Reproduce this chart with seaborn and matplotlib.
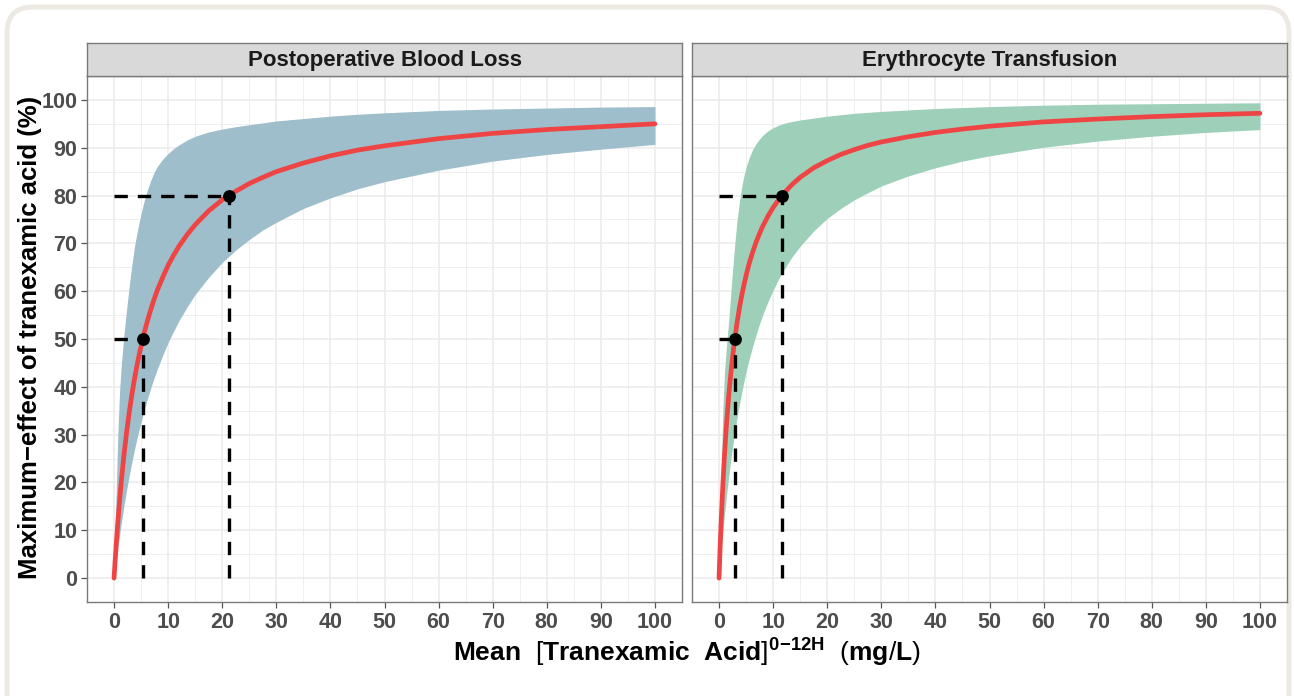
import matplotlib
matplotlib.use("Agg")
import matplotlib.pyplot as plt
from matplotlib.ticker import MultipleLocator
from matplotlib.patches import FancyBboxPatch
import pandas as pd
import seaborn as sns

# ---------------- data ----------------
panels = ["Postoperative Blood Loss", "Erythrocyte Transfusion"]
conc = [0, 0.1, 0.2, 0.4, 0.7, 1, 1.3, 1.8, 2.3, 2.8, 3.3, 3.8, 4.3, 4.7, 5.2, 5.6,
        6.2, 6.8, 7.4, 8, 9, 10, 11, 12, 13.5, 15, 17.5, 20, 22.5, 25, 27.5, 30,
        35, 40, 45, 50, 60, 70, 80, 90, 100]

bl_mid = [0, 1.85, 3.6, 7.0, 11.7, 15.9, 19.7, 25.4, 30.3, 34.6, 38.4, 41.8, 44.8, 47.0,
          49.5, 51.4, 53.9, 56.2, 58.3, 60.2, 62.9, 65.4, 67.5, 69.4, 71.8, 73.9, 76.8,
          79.1, 80.9, 82.5, 83.8, 85.0, 86.8, 88.3, 89.5, 90.4, 91.9, 93.0, 93.8, 94.4, 95.0]
bl_lo = [0, 0.96, 1.9, 3.7, 6.4, 8.8, 11.2, 14.9, 18.3, 21.4, 24.3, 27.0, 29.5, 31.3,
         33.5, 35.2, 37.6, 39.8, 41.8, 43.7, 46.6, 49.3, 51.6, 53.8, 56.7, 59.3, 62.9,
         66.0, 68.6, 70.8, 72.8, 74.4, 77.3, 79.5, 81.4, 82.9, 85.3, 87.2, 88.6, 89.7, 90.7]
bl_hi = [0, 5, 10, 18, 30, 38.5, 44, 50.5, 56, 61, 65.5, 69.5, 72.5, 74.7,
         77.2, 79, 81.3, 83.2, 84.8, 86.1, 87.6, 88.8, 89.8, 90.6, 91.6, 92.4, 93.3,
         93.9, 94.4, 94.8, 95.2, 95.6, 96.1, 96.6, 97.0, 97.3, 97.8, 98.1, 98.3, 98.5, 98.6]

et_mid = [0, 3.3, 6.5, 12.1, 19.4, 25.6, 31.0, 38.3, 44.2, 49.1, 53.2, 56.7, 59.7, 61.8,
          64.2, 65.9, 68.1, 70.1, 71.8, 73.4, 75.6, 77.5, 79.1, 80.5, 82.3, 83.8, 85.8,
          87.3, 88.6, 89.6, 90.5, 91.2, 92.3, 93.2, 93.9, 94.5, 95.4, 96.0, 96.5, 96.9, 97.2]
et_lo = [0, 1.5, 2.9, 5.7, 9.6, 13.2, 16.5, 21.4, 25.8, 29.8, 33.3, 36.5, 39.4, 41.6,
         44.1, 45.9, 48.4, 50.7, 52.9, 54.8, 57.7, 60.2, 62.5, 64.5, 67.2, 69.4, 72.6,
         75.2, 77.3, 79.1, 80.6, 82.0, 84.1, 85.8, 87.2, 88.3, 90.1, 91.4, 92.4, 93.2, 93.8]
et_hi = [0, 6, 11, 22, 35, 43, 47.5, 54, 61.5, 68.5, 74.5, 79, 82.5, 84.6,
         86.7, 88, 89.6, 90.8, 91.7, 92.5, 93.5, 94.2, 94.7, 95.1, 95.5, 95.8, 96.2,
         96.6, 96.9, 97.2, 97.4, 97.6, 97.9, 98.2, 98.4, 98.6, 98.9, 99.1, 99.2, 99.3, 99.4]

ec50 = [5.3, 2.9]
ec80 = [21.2, 11.6]
effect_levels = [50, 80]

x_ticks = list(range(0, 101, 10))
y_ticks = list(range(0, 101, 10))

band_colors = ["#9EBECB", "#9ED0B9"]
line_color = "#EF4444"

# ---------------- style ----------------
sns.set_theme(style="whitegrid")
plt.rcParams["font.family"] = ["Liberation Sans", "DejaVu Sans"]
plt.rcParams["mathtext.fontset"] = "custom"
plt.rcParams["mathtext.rm"] = "Liberation Sans"
plt.rcParams["mathtext.bf"] = "Liberation Sans:bold"
plt.rcParams["mathtext.it"] = "Liberation Sans:italic"

W, H = 1294, 696
fig = plt.figure(figsize=(W / 100, H / 100), dpi=100)
fig.patch.set_facecolor("white")

# outer card frame (open at the bottom)
card = FancyBboxPatch((7 / W, -60 / H), 1282 / W, (H - 7 + 60) / H,
                      boxstyle="round,pad=0,rounding_size=0.02",
                      transform=fig.transFigure, facecolor="white",
                      edgecolor="#ECE9E3", linewidth=3.5, zorder=-10,
                      mutation_aspect=W / H)
fig.patches.append(card)


def fx(px):
    return px / W


def fy(py):
    return 1 - py / H


panel_px = [(87, 682), (692, 1287)]
top_px, bot_px, strip_top_px = 76, 602, 43

mids = [bl_mid, et_mid]
los = [bl_lo, et_lo]
his = [bl_hi, et_hi]

for i, name in enumerate(panels):
    x0, x1 = panel_px[i]
    ax = fig.add_axes([fx(x0), fy(bot_px), fx(x1) - fx(x0), fy(top_px) - fy(bot_px)])
    ax.set_facecolor("white")

    df = pd.DataFrame({"conc": conc, "mid": mids[i], "lo": los[i], "hi": his[i]})
    ax.fill_between(df["conc"], df["lo"], df["hi"], color=band_colors[i], lw=0, zorder=2)
    sns.lineplot(data=df, x="conc", y="mid", ax=ax, color=line_color, lw=3.4,
                 zorder=4, sort=False)

    # reference dashed lines
    for ec, lev in zip([ec50[i], ec80[i]], effect_levels):
        ax.plot([0, ec], [lev, lev], color="black", lw=2.4, ls=(0, (4, 3)), zorder=5,
                dash_capstyle="butt")
        ax.plot([ec, ec], [0, lev], color="black", lw=2.4, ls=(0, (4, 3)), zorder=5,
                dash_capstyle="butt")
    pts = pd.DataFrame({"x": [ec50[i], ec80[i]], "y": effect_levels})
    sns.scatterplot(data=pts, x="x", y="y", ax=ax, color="black", s=85,
                    edgecolor="black", linewidth=0, zorder=6)

    ax.set_xlim(-5, 105)
    ax.set_ylim(-5, 105)
    ax.set_xticks(x_ticks)
    ax.set_xticklabels([str(t) for t in x_ticks])
    ax.set_yticks(y_ticks)
    ax.xaxis.set_minor_locator(MultipleLocator(5))
    ax.yaxis.set_minor_locator(MultipleLocator(5))
    ax.grid(True, which="major", color="#EBEBEB", lw=1.1, zorder=0)
    ax.grid(True, which="minor", color="#EBEBEB", lw=0.55, zorder=0)
    ax.set_axisbelow(True)
    ax.set_xlabel("")
    ax.set_ylabel("")
    for sp in ax.spines.values():
        sp.set_visible(True)
        sp.set_color("#7A7A7A")
        sp.set_linewidth(1.0)
    ax.tick_params(which="minor", length=0)
    ax.tick_params(axis="x", which="major", length=4, width=0.9, color="#555555",
                   labelsize=15.5, labelcolor="#4D4D4D", pad=3, bottom=True)
    for lab in ax.get_xticklabels():
        lab.set_fontweight("bold")
    if i == 0:
        ax.set_yticklabels([str(t) for t in y_ticks])
        ax.tick_params(axis="y", which="major", length=4, width=0.9, color="#555555",
                       labelsize=15.5, labelcolor="#4D4D4D", pad=3, left=True)
        for lab in ax.get_yticklabels():
            lab.set_fontweight("bold")
    else:
        ax.tick_params(axis="y", which="both", left=False, labelleft=False)

    # facet strip
    sax = fig.add_axes([fx(x0), fy(top_px), fx(x1) - fx(x0), fy(strip_top_px) - fy(top_px)])
    sax.set_facecolor("#D9D9D9")
    sax.set_xticks([])
    sax.set_yticks([])
    sax.grid(False)
    for sp in sax.spines.values():
        sp.set_visible(True)
        sp.set_color("#7A7A7A")
        sp.set_linewidth(1.0)
    sax.text(0.5, 0.47, name, ha="center", va="center", fontsize=16,
             fontweight="bold", color="#1A1A1A", transform=sax.transAxes)

# axis titles
fig.text(fx(30), fy(337), "Maximum\u2212effect of tranexamic acid (%)", rotation=90,
         ha="center", va="center", fontsize=18.5, fontweight="bold", color="black")
fig.text(fx(687), fy(653),
         r"$\mathbf{Mean}\ \ \mathrm{[}\mathbf{Tranexamic\ \ Acid}\mathrm{]}^{\mathbf{0\!-\!12H}}"
         r"\ \ \mathrm{(}\mathbf{mg}\mathrm{/}\mathbf{L}\mathrm{)}$",
         ha="center", va="center", fontsize=19, color="black")

fig.savefig("out.png", dpi=100, facecolor=fig.get_facecolor())
